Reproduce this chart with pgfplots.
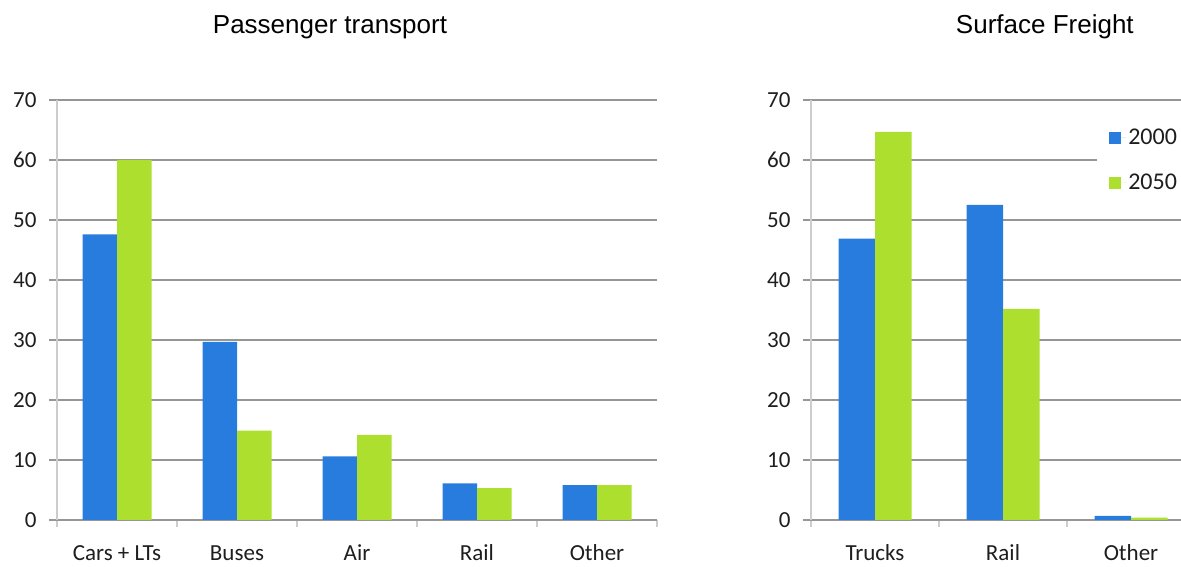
\documentclass[border=0pt]{standalone}
\usepackage{fontspec}
\setmainfont{Carlito}
\newfontfamily\titlefont{Liberation Sans}
\usepackage{pgfplots}
\pgfplotsset{compat=1.18}

\definecolor{bar2000}{RGB}{40,124,222}
\definecolor{bar2050}{RGB}{173,223,47}
\definecolor{gridgray}{RGB}{150,150,150}
\definecolor{axisgray}{RGB}{205,205,205}
\definecolor{labelgray}{RGB}{30,30,30}

\pgfplotsset{
  sharebars/.style={
    scale only axis, height=420bp,
    ymin=0, ymax=70, ytick={0,10,...,70},
    axis lines*=left,
    x axis line style={gridgray, line width=1bp},
    y axis line style={axisgray, line width=1.2bp},
    ymajorgrids, major grid style={gridgray, line width=1.1bp},
    tick align=outside, major tick length=8bp, minor tick length=7bp,
    major y tick style={gridgray, line width=1.1bp},
    major x tick style={draw=none},
    minor x tick style={axisgray, line width=1.2bp},
    xtick=data,
    ybar=0pt, enlargelimits=false,
    every tick label/.append style={font=\fontsize{23bp}{27bp}\selectfont, text=labelgray},
    /pgf/number format/assume math mode=true,
    xticklabel style={inner ysep=0pt, text height=16bp, text depth=0pt, yshift=-16bp},
    yticklabel style={xshift=-9bp},
    title style={font=\titlefont\fontsize{26bp}{31bp}\selectfont, anchor=base, yshift=61bp},
    legend image code/.code={\fill[#1] (0bp,-6bp) rectangle (12bp,6bp); \path (0bp,0bp) -- (17bp,0bp);},
  },
  bar2000/.style={fill=bar2000, draw=none},
  bar2050/.style={fill=bar2050, draw=none},
}

\pgfplotstableread{
x y2000 y2050
0 47.6  60.0
1 29.7  14.9
2 10.6  14.2
3  6.1   5.3
4  5.8   5.8
}\passenger

\pgfplotstableread{
x y2000 y2050
0 46.9  64.7
1 52.5  35.2
2  0.7   0.4
}\freight

\begin{document}
\begin{tikzpicture}
\clip (0,0) rectangle (1181bp,567bp);

% Passenger transport
\begin{axis}[sharebars,
  at={(57bp,47bp)}, anchor=south west, width=600bp,
  xmin=-0.5, xmax=4.5, bar width=34.5bp,
  xticklabels={Cars + LTs, Buses, Air, Rail, Other},
  minor xtick={-0.5,0.5,...,4.5},
  title={Passenger transport}, title style={at={(0.455,1)}},
]
\addplot[bar2000] table[x=x, y=y2000] {\passenger};
\addplot[bar2050] table[x=x, y=y2050] {\passenger};
\end{axis}

% Surface freight
\begin{axis}[sharebars,
  at={(811bp,47bp)}, anchor=south west, width=384bp,
  xmin=-0.5, xmax=2.5, bar width=36.5bp,
  xticklabels={Trucks, Rail, Other},
  minor xtick={-0.5,0.5,...,2.5},
  title={Surface Freight}, title style={at={(0.609,1)}},
  legend style={at={(0.745,0.945)}, anchor=north west, draw=none, fill=white,
    font=\fontsize{24bp}{28bp}\selectfont, text=labelgray,
    row sep=24bp, inner xsep=12bp, inner ysep=4bp},
  legend cell align=left,
]
\addplot[bar2000] table[x=x, y=y2000] {\freight};
\addplot[bar2050] table[x=x, y=y2050] {\freight};
\legend{2000, 2050}
\end{axis}
\end{tikzpicture}
\end{document}
